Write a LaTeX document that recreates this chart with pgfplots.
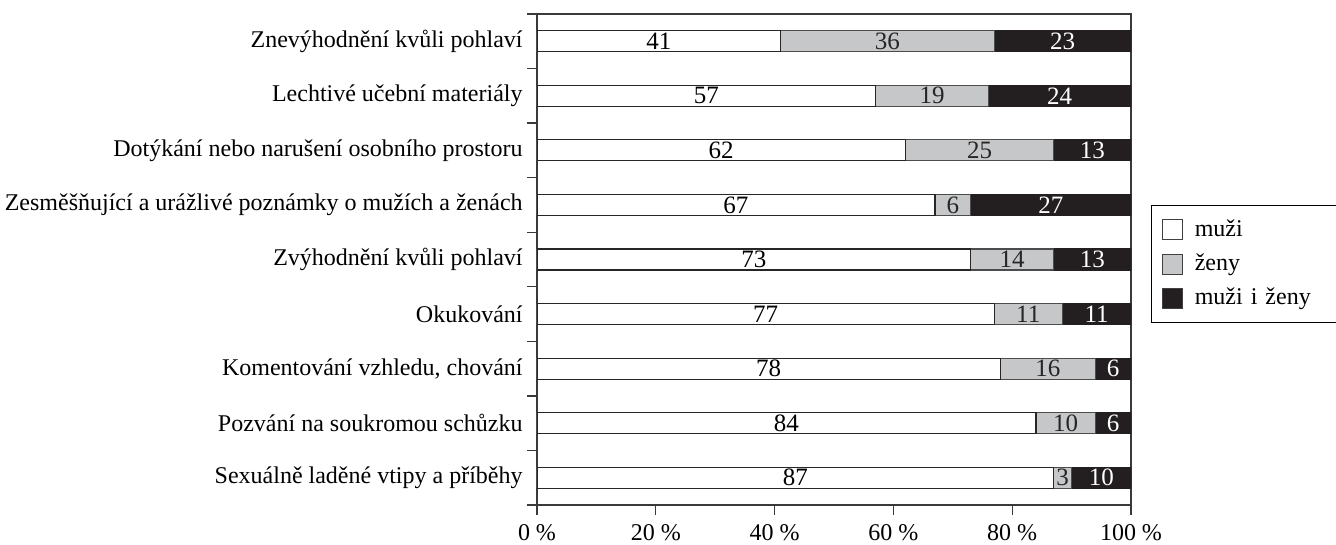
\documentclass[border=0pt]{standalone}
\usepackage{fontspec}
\setmainfont{Liberation Serif}
\usepackage{pgfplots}
\pgfplotsset{compat=1.18}
\usepackage{pgfplotstable}
\definecolor{barGray}{HTML}{C6C7C9}
\definecolor{barBlack}{HTML}{231F20}
\definecolor{axGray}{HTML}{3A3A3A}

\pgfplotstableread{
y a alab b blab c clab
0 87 87 3 3 10 10
1 84 84 10 10 6 6
2 78 78 16 16 6 6
3 77 77 11.4 11 11.6 11
4 73 73 14 14 13 13
5 67 67 6 6 27 27
6 62 62 25 25 13 13
7 57 57 19 19 24 24
8 41 41 36 36 23 23
}\data

\pgfplotsset{
  common/.style={
    at={(0,0)}, anchor=south west,
    scale only axis, width=297pt, height=245.5pt,
    xmin=0, xmax=100, ymin=-0.5, ymax=8.5,
  },
}

\begin{document}
\fontsize{12}{14}\selectfont
\begin{tikzpicture}
\useasboundingbox (-268.5pt,-20pt) rectangle (399.5pt,252.5pt);
\begin{axis}[
  common,
  xbar stacked, bar width=10.5pt,
  axis line style={axGray, line width=0.7pt},
  tick style={axGray, line width=0.7pt},
  tick align=outside, major tick length=5pt,
  xtick pos=bottom, ytick pos=left,
  xtick={0,20,...,100},
  xticklabel={\pgfmathprintnumber[assume math mode=true]{\tick}~\%},
  ytick={-0.5,0.5,...,8.5},
  yticklabels={Sexuálně laděné vtipy a příběhy,Pozvání na soukromou schůzku,{Komentování vzhledu, chování},Okukování,Zvýhodnění kvůli pohlaví,Zesměšňující a urážlivé poznámky o mužích a ženách,Dotýkání nebo narušení osobního prostoru,Lechtivé učební materiály,Znevýhodnění kvůli pohlaví,{}},
  yticklabel style={yshift=13.64pt, xshift=2pt, font=\fontsize{12}{14}\selectfont},
  xticklabel style={inner sep=0.5pt, yshift=-4pt, font=\fontsize{12}{14}\selectfont},
  legend style={at={(1.0337,0.611)}, anchor=north west, draw=black, line width=0.6pt,
    font=\fontsize{12}{14}\selectfont, row sep=3pt, inner xsep=5pt, inner ysep=5pt,
    legend cell align=left, nodes={text width=64pt}},
  legend image code/.code={\draw[#1, draw=black!75, line width=0.5pt] (0pt,-5pt) rectangle (10pt,5pt); \path (0pt,0pt) (14pt,0pt);},
]
\addplot[fill=white, draw=black!85, line width=0.6pt] table[x=a, y=y] {\data};
\addplot[fill=barGray, draw=black!70, line width=0.6pt] table[x=b, y=y] {\data};
\addplot[fill=barBlack, draw=barBlack, line width=0.6pt] table[x=c, y=y] {\data};
\legend{muži, ženy, muži i ženy}
\end{axis}
\begin{axis}[
  common, hide axis,
  point meta=explicit symbolic,
  nodes near coords={\pgfplotspointmeta},
  every node near coord/.append style={anchor=center, inner sep=0pt, font=\fontsize{12.5}{14}\selectfont},
]
\addplot[only marks, mark=none, nodes near coords style={text=black}] table[x expr=\thisrow{a}/2, y=y, meta=alab] {\data};
\addplot[only marks, mark=none, nodes near coords style={text=black!85}] table[x expr=\thisrow{a}+\thisrow{b}/2, y=y, meta=blab] {\data};
\addplot[only marks, mark=none, nodes near coords style={text=white}] table[x expr=\thisrow{a}+\thisrow{b}+\thisrow{c}/2, y=y, meta=clab] {\data};
\end{axis}
\end{tikzpicture}
\end{document}
